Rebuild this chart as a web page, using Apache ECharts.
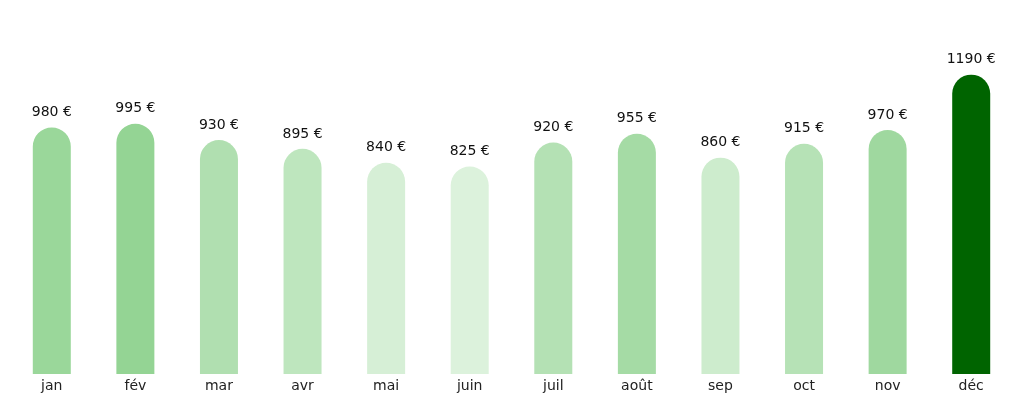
<!DOCTYPE html>
<html>
<head>
<meta charset="utf-8">
<script src="https://cdn.jsdelivr.net/npm/echarts@6/dist/echarts.min.js"></script>
<style>html,body{margin:0;background:#fff}</style>
</head>
<body>
<div id="chart" style="width:1024px;height:404px"></div>
<script>
var months = ['jan', 'fév', 'mar', 'avr', 'mai', 'juin', 'juil', 'août', 'sep', 'oct', 'nov', 'déc'];
var values = [980, 995, 930, 895, 840, 825, 920, 955, 860, 915, 970, 1190];

// light-to-mid green by value, the top month in dark green
function shade(v) {
    var lo = 825, hi = 995;
    var t = Math.max(0, Math.min(1, (v - lo) / (hi - lo)));
    var a = [220, 242, 220], b = [148, 212, 148];
    var c = a.map(function (x, i) { return Math.round(x + (b[i] - x) * t); });
    return 'rgb(' + c.join(',') + ')';
}
var maxVal = Math.max.apply(null, values);

var myChart = echarts.init(document.getElementById('chart'));
myChart.setOption({
    animation: false,
    grid: { left: 10, right: 11, top: 47, bottom: 30 },
    xAxis: {
        type: 'category',
        data: months,
        axisLine: { show: false },
        axisTick: { show: false },
        axisLabel: { color: '#222', fontSize: 14, margin: 5, fontFamily: 'DejaVu Sans' }
    },
    yAxis: { type: 'value', min: 0, max: 1300, show: false },
    series: [{
        type: 'bar',
        barWidth: 38,
        data: values.map(function (v) {
            return { value: v, itemStyle: { color: v === maxVal ? '#006400' : shade(v) } };
        }),
        itemStyle: { borderRadius: [19, 19, 0, 0] },
        label: {
            show: true,
            position: 'top',
            distance: 8,
            color: '#111',
            fontSize: 14,
            fontFamily: 'DejaVu Sans',
            formatter: function (p) { return p.value + ' €'; }
        }
    }]
});
</script>
</body>
</html>
